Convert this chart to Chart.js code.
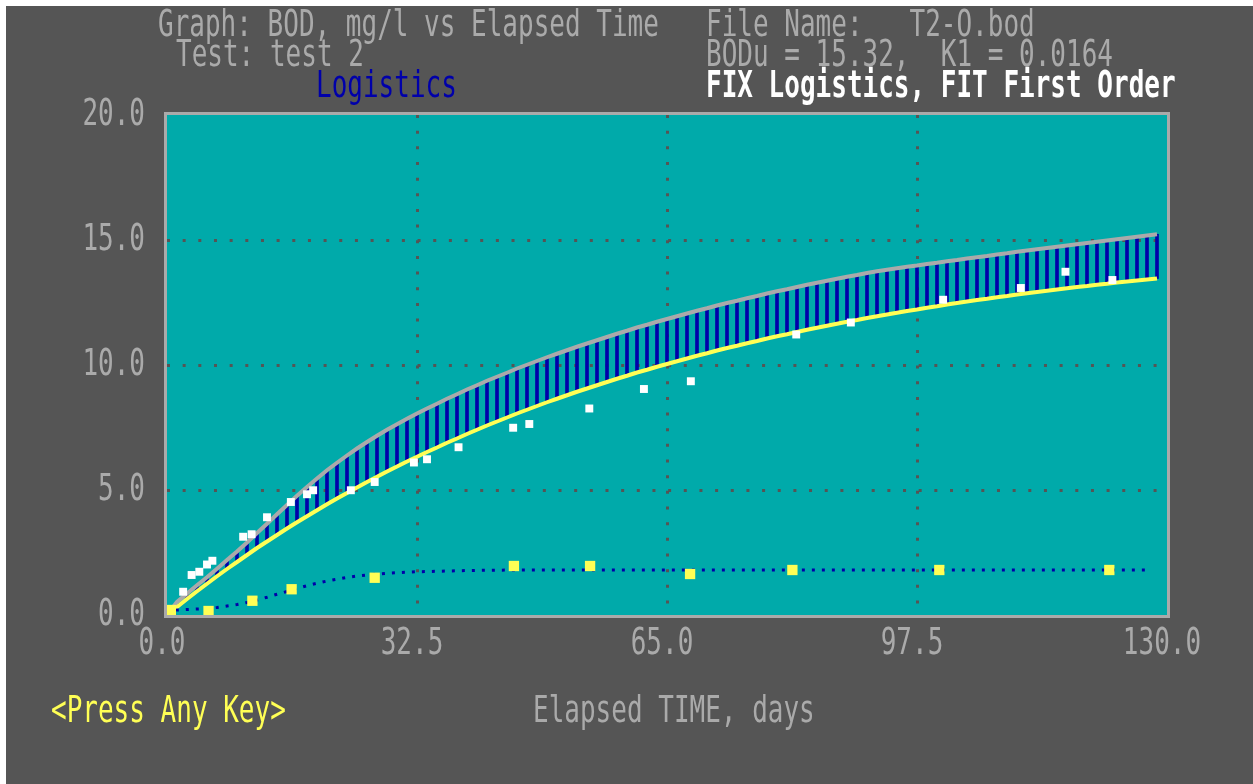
<!DOCTYPE html>
<html>
<head>
<meta charset="utf-8">
<title>BOD, mg/l vs Elapsed Time</title>
<script src="https://cdn.jsdelivr.net/npm/chart.js@4.4.1/dist/chart.umd.min.js"></script>
<style>
  html, body { margin: 0; padding: 0; background: #ffffff; }
  #screen { position: absolute; left: 6px; top: 6px; width: 1247px; height: 778px; background: #555555; }
  canvas { position: absolute; left: 0; top: 0; }
  .txt {
    position: absolute;
    font-family: "DejaVu Sans Mono", monospace;
    font-size: 26px;
    line-height: 26px;
    white-space: pre;
    color: #aaaaaa;
    transform: scaleY(1.42);
    transform-origin: 0 0;
  }
</style>
</head>
<body>
<div id="screen"></div>
<canvas id="bodChart" width="1253" height="784"></canvas>

<div class="txt" style="left:158px; top:5px;">Graph: BOD, mg/l vs Elapsed Time</div>
<div class="txt" style="left:176px; top:35px;">Test: test 2</div>
<div class="txt" style="left:316px; top:66px; color:#0000aa;">Logistics</div>
<div class="txt" style="left:706px; top:5px;">File Name:   T2-O.bod</div>
<div class="txt" style="left:706px; top:35px;">BODu = 15.32,  K1 = 0.0164</div>
<div class="txt" style="left:706px; top:66px; color:#ffffff; font-weight:bold;">FIX Logistics, FIT First Order</div>
<div class="txt" style="left:51px; top:691px; color:#ffff55;">&lt;Press Any Key&gt;</div>
<div class="txt" style="left:533px; top:691px;">Elapsed TIME, days</div>

<script>
// time grid of the fitted curves (days)
const days = [
  0, 1.3, 2.6, 3.9, 5.2, 6.5, 7.8, 9.1, 10.4, 11.7,
  13, 14.3, 15.6, 16.9, 18.2, 19.5, 20.8, 22.1, 23.4, 24.7,
  26, 27.3, 28.6, 29.9, 31.2, 32.5, 33.8, 35.1, 36.4, 37.7,
  39, 40.3, 41.6, 42.9, 44.2, 45.5, 46.8, 48.1, 49.4, 50.7,
  52, 53.3, 54.6, 55.9, 57.2, 58.5, 59.8, 61.1, 62.4, 63.7,
  65, 66.3, 67.6, 68.9, 70.2, 71.5, 72.8, 74.1, 75.4, 76.7,
  78, 79.3, 80.6, 81.9, 83.2, 84.5, 85.8, 87.1, 88.4, 89.7,
  91, 92.3, 93.6, 94.9, 96.2, 97.5, 98.8, 100.1, 101.4, 102.7,
  104, 105.3, 106.6, 107.9, 109.2, 110.5, 111.8, 113.1, 114.4, 115.7,
  117, 118.3, 119.6, 120.9, 122.2, 123.5, 124.8, 126.1, 127.4, 128.7
];

// FIT First Order curve (yellow)
const firstOrder = [
  0, 0.32, 0.64, 0.95, 1.25, 1.55, 1.84, 2.12, 2.40, 2.68,
  2.94, 3.20, 3.46, 3.71, 3.95, 4.19, 4.43, 4.66, 4.88, 5.10,
  5.32, 5.53, 5.74, 5.94, 6.14, 6.33, 6.52, 6.70, 6.89, 7.06,
  7.24, 7.41, 7.58, 7.74, 7.90, 8.06, 8.21, 8.36, 8.51, 8.65,
  8.79, 8.93, 9.06, 9.19, 9.32, 9.45, 9.57, 9.70, 9.81, 9.93,
  10.04, 10.15, 10.26, 10.37, 10.47, 10.58, 10.68, 10.77, 10.87, 10.96,
  11.06, 11.15, 11.23, 11.32, 11.41, 11.49, 11.57, 11.65, 11.73, 11.80,
  11.88, 11.95, 12.02, 12.09, 12.16, 12.22, 12.29, 12.35, 12.42, 12.48,
  12.54, 12.60, 12.65, 12.71, 12.76, 12.82, 12.87, 12.92, 12.97, 13.02,
  13.07, 13.12, 13.16, 13.21, 13.25, 13.30, 13.34, 13.38, 13.42, 13.46
];

// FIX Logistics total curve (gray)
const logisticsTotal = [
  0, 0.52, 0.86, 1.19, 1.51, 1.85, 2.20, 2.54, 2.90, 3.28,
  3.65, 4.03, 4.40, 4.77, 5.12, 5.46, 5.79, 6.09, 6.38, 6.66,
  6.92, 7.17, 7.41, 7.63, 7.85, 8.06, 8.26, 8.45, 8.65, 8.83,
  9.02, 9.19, 9.37, 9.53, 9.69, 9.86, 10.01, 10.16, 10.31, 10.45,
  10.59, 10.73, 10.86, 10.99, 11.12, 11.25, 11.37, 11.50, 11.61, 11.73,
  11.84, 11.95, 12.06, 12.17, 12.27, 12.38, 12.48, 12.57, 12.67, 12.76,
  12.86, 12.95, 13.03, 13.12, 13.21, 13.29, 13.37, 13.45, 13.53, 13.60,
  13.68, 13.75, 13.81, 13.87, 13.93, 13.98, 14.04, 14.09, 14.15, 14.20,
  14.26, 14.31, 14.36, 14.42, 14.47, 14.53, 14.58, 14.63, 14.68, 14.73,
  14.78, 14.83, 14.88, 14.93, 14.98, 15.03, 15.08, 15.13, 15.18, 15.23
];

// logistic part (blue dotted)
const logDays = [0, 1.3, 2.6, 3.9, 5.2, 6.5, 7.8, 9.1, 10.4, 11.7, 13, 14.3, 15.6, 16.9, 18.2,
  19.5, 20.8, 22.1, 23.4, 24.7, 26, 27.3, 28.6, 29.9, 31.2, 32.5, 35.1, 39, 45.5, 127.4];
const logPart = [0, 0.2, 0.22, 0.24, 0.26, 0.3, 0.36, 0.42, 0.5, 0.6, 0.71, 0.83, 0.94, 1.06, 1.17,
  1.27, 1.36, 1.43, 1.5, 1.56, 1.6, 1.64, 1.67, 1.69, 1.71, 1.73, 1.75, 1.78, 1.8, 1.8];

// measured BOD (white squares)
const bodDays = [2.1, 3.2, 4.2, 5.2, 5.9, 9.9, 11.0, 13.0, 16.1, 18.2, 19.0, 23.9, 27.0, 32.1,
  33.8, 37.9, 45.0, 47.1, 54.9, 62.0, 68.1, 81.8, 88.9, 100.9, 111.0, 116.8, 122.9];
const bodValues = [0.93, 1.60, 1.73, 2.02, 2.17, 3.13, 3.23, 3.91, 4.52, 4.83, 4.99, 4.99, 5.32, 6.10,
  6.23, 6.71, 7.49, 7.64, 8.26, 9.04, 9.35, 11.22, 11.70, 12.61, 13.08, 13.73, 13.40];

// logistic residual points (yellow squares)
const resDays = [0.5, 5.4, 11.1, 16.2, 27.0, 45.1, 55.0, 68.0, 81.3, 100.4, 122.5];
const resValues = [0.2, 0.16, 0.57, 1.03, 1.49, 1.96, 1.96, 1.64, 1.80, 1.80, 1.80];

const xTicks = [0, 32.5, 65, 97.5, 130];
const yTicks = [0, 5, 10, 15, 20];

const pts = (xs, ys) => xs.map((x, i) => ({ x: x, y: ys[i] }));

// teal plot area + light gray frame
const plotFrame = {
  id: "plotFrame",
  beforeDraw(chart) {
    const { ctx, chartArea: a } = chart;
    ctx.save();
    ctx.fillStyle = "#00aaaa";
    ctx.fillRect(a.left, a.top, a.right - a.left, a.bottom - a.top);
    ctx.restore();
  },
  afterDraw(chart) {
    const { ctx, chartArea: a } = chart;
    ctx.save();
    ctx.strokeStyle = "#aaaaaa";
    ctx.lineWidth = 3;
    ctx.strokeRect(a.left - 1.5, a.top - 1.5, a.right - a.left + 3, a.bottom - a.top + 3);
    ctx.restore();
  }
};

const canvas = document.getElementById("bodChart");
const ctx = canvas.getContext("2d");

// tall, narrow text like the old screen font
const plainFillText = ctx.fillText;
ctx.fillText = function (text, x, y, maxWidth) {
  this.save();
  this.translate(x, y);
  this.scale(1, 1.42);
  if (maxWidth === undefined) plainFillText.call(this, text, 0, 0);
  else plainFillText.call(this, text, 0, 0, maxWidth);
  this.restore();
};

const tickFont = { family: "DejaVu Sans Mono", size: 26 };
const dots = [3, 12.66];

new Chart(ctx, {
  type: "line",
  data: {
    datasets: [
      {
        label: "Measured BOD",
        data: pts(bodDays, bodValues),
        showLine: false,
        pointStyle: "rect",
        pointRadius: 5.6,
        pointBorderWidth: 0,
        pointBackgroundColor: "#ffffff",
        order: 0
      },
      {
        label: "Logistic points",
        data: pts(resDays, resValues),
        showLine: false,
        pointStyle: "rect",
        pointRadius: 7.3,
        pointBorderWidth: 0,
        pointBackgroundColor: "#ffff55",
        order: 1
      },
      {
        label: "Logistics",
        data: pts(logDays, logPart),
        borderColor: "#0000aa",
        borderWidth: 3,
        borderDash: [3, 7],
        pointRadius: 0,
        tension: 0,
        order: 2
      },
      {
        label: "First Order",
        data: pts(days, firstOrder),
        borderColor: "#ffff55",
        borderWidth: 4,
        pointRadius: 0,
        tension: 0,
        order: 3
      },
      {
        label: "Logistics + First Order",
        data: pts(days, logisticsTotal),
        borderColor: "#aaaaaa",
        borderWidth: 4,
        pointRadius: 0,
        tension: 0,
        order: 4
      },
      {
        type: "bar",
        label: "Hatch",
        data: days.map((d, i) => ({ x: d, y: [firstOrder[i], logisticsTotal[i]] })),
        backgroundColor: "#0000aa",
        borderWidth: 0,
        barThickness: 3,
        grouped: false,
        order: 5
      }
    ]
  },
  options: {
    responsive: false,
    animation: false,
    events: [],
    layout: { padding: { left: 0, top: 115, right: 86, bottom: 119 } },
    plugins: {
      legend: { display: false },
      tooltip: { enabled: false }
    },
    scales: {
      x: {
        type: "linear",
        min: 0,
        max: 130,
        offset: false,
        afterBuildTicks: axis => { axis.ticks = xTicks.map(v => ({ value: v })); },
        afterFit: axis => { axis.height = 50; },
        grid: {
          offset: false,
          color: c => (c.tick && (c.tick.value === 0 || c.tick.value === 130)) ? "rgba(0,0,0,0)" : "#555555",
          lineWidth: 3,
          drawTicks: false,
          borderDash: dots
        },
        border: { display: false, dash: dots },
        ticks: {
          color: "#aaaaaa",
          font: tickFont,
          padding: 14,
          labelOffset: -5,
          maxRotation: 0,
          autoSkip: false,
          callback: v => Number(v).toFixed(1)
        }
      },
      y: {
        min: 0,
        max: 20,
        afterBuildTicks: axis => { axis.ticks = yTicks.map(v => ({ value: v })); },
        afterFit: axis => { axis.width = 167; },
        grid: {
          offset: false,
          color: c => (c.tick && (c.tick.value === 0 || c.tick.value === 20)) ? "rgba(0,0,0,0)" : "#555555",
          lineWidth: 3,
          drawTicks: false,
          borderDash: dots
        },
        border: { display: false, dash: dots },
        ticks: {
          color: "#aaaaaa",
          font: tickFont,
          padding: 22,
          autoSkip: false,
          callback: v => Number(v).toFixed(1)
        }
      }
    }
  },
  plugins: [plotFrame]
});
</script>
</body>
</html>
